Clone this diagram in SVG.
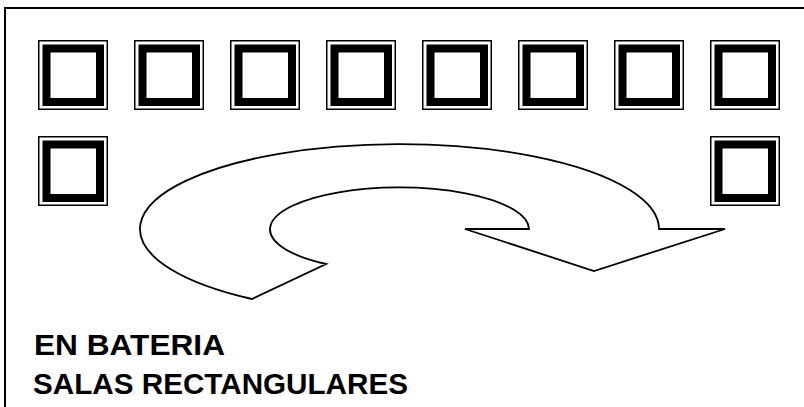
<svg xmlns="http://www.w3.org/2000/svg" width="804" height="407" viewBox="0 0 804 407">
  <style>
    .frame { fill: none; stroke: #000; stroke-width: 2; }
    .room-outer { fill: #fff; stroke: #000; stroke-width: 1.5; }
    .room-inner { fill: #fff; stroke: #000; stroke-width: 8; }
    .flow { fill: #fff; stroke: #000; stroke-width: 1.8; stroke-linejoin: miter; }
    .label { font-family: "Liberation Sans", Arial, sans-serif; font-weight: bold; font-size: 29px; fill: #000; }
  </style>
  <defs>
    <!-- a room: thin outline around a heavy square border -->
    <g id="room">
      <rect class="room-outer" x="0.75" y="0.75" width="68.5" height="68.5"/>
      <rect class="room-inner" x="8.5" y="8.5" width="53.5" height="53.5"/>
    </g>
  </defs>

  <rect width="804" height="407" fill="#fff"/>
  <path class="frame" d="M5,407 V8 H804"/>

  <!-- upper row of rooms -->
  <g id="room-1"><use href="#room" x="38" y="40"/></g>
  <g id="room-2"><use href="#room" x="134" y="40"/></g>
  <g id="room-3"><use href="#room" x="230" y="40"/></g>
  <g id="room-4"><use href="#room" x="326" y="40"/></g>
  <g id="room-5"><use href="#room" x="422" y="40"/></g>
  <g id="room-6"><use href="#room" x="518" y="40"/></g>
  <g id="room-7"><use href="#room" x="614" y="40"/></g>
  <g id="room-8"><use href="#room" x="710" y="40"/></g>
  <!-- lower row -->
  <g id="room-9"><use href="#room" x="38" y="136"/></g>
  <g id="room-10"><use href="#room" x="710" y="136"/></g>

  <!-- curved flow arrow -->
  <g id="connectors">
    <path class="flow" d="M659,229 A259.5,85 0 1 0 252,299 L326,264 A129.5,42 0 1 1 529,229 L465,229 L594,271 L725,229 Z"/>
  </g>

  <g id="caption">
    <text class="label" x="34" y="355" textLength="191" lengthAdjust="spacingAndGlyphs">EN BATERIA</text>
    <text class="label" x="33" y="394" textLength="375" lengthAdjust="spacingAndGlyphs">SALAS RECTANGULARES</text>
  </g>
</svg>
